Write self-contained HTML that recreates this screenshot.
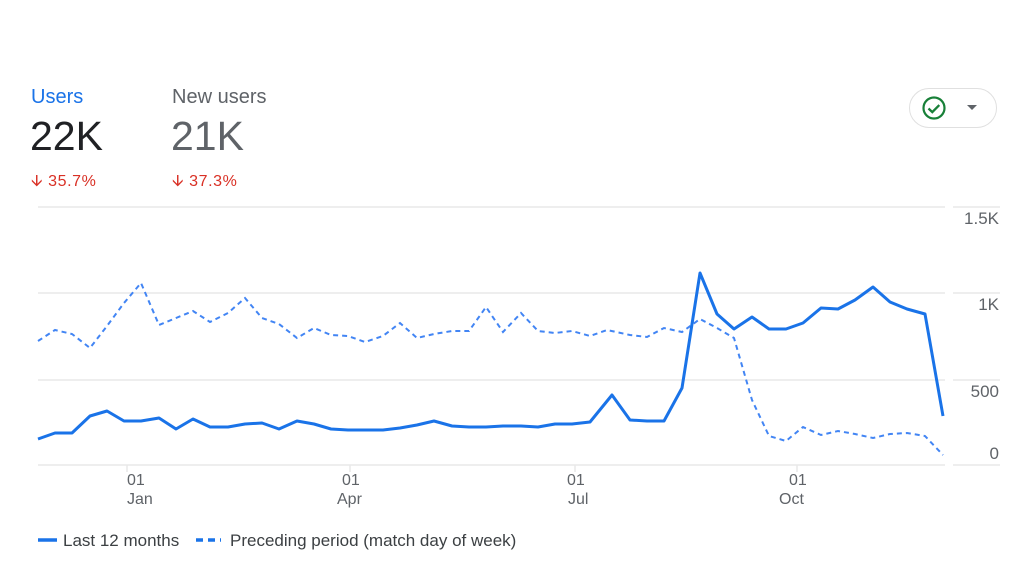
<!DOCTYPE html>
<html><head><meta charset="utf-8"><style>
body{margin:0;width:1024px;height:576px;background:#fff;font-family:"Liberation Sans",sans-serif;position:relative;overflow:hidden}
.t{position:absolute;white-space:nowrap}
</style></head><body>
<div class="t" style="left:31px;top:86px;font-size:20px;color:#1a73e8">Users</div>
<div class="t" style="left:172px;top:86px;font-size:20px;color:#5f6368">New users</div>
<div class="t" style="left:30px;top:113px;font-size:41px;color:#202124">22K</div>
<div class="t" style="left:171px;top:113px;font-size:41px;color:#5f6368">21K</div>
<div class="t" style="left:31px;top:170px;font-size:16px;color:#d93025;letter-spacing:0.6px">&#129131; 35.7%</div>
<div class="t" style="left:172px;top:170px;font-size:16px;color:#d93025;letter-spacing:0.6px">&#129131; 37.3%</div>
<div style="position:absolute;left:909px;top:88px;width:88px;height:40px;border:1px solid #e0e0e0;border-radius:21px;box-sizing:border-box"></div>
<svg style="position:absolute;left:0;top:0" width="1024" height="576">
<circle cx="934" cy="108" r="10.5" fill="none" stroke="#188038" stroke-width="2.2"/>
<path d="M928.5 108.5l3.8 3.6 7-7" fill="none" stroke="#188038" stroke-width="2.3"/>
<path d="M967 105h10l-5 5z" fill="#5f6368"/>
<g stroke="#e8e8e8" stroke-width="1.5">
<line x1="38" y1="207" x2="945" y2="207"/><line x1="953" y1="207" x2="1000" y2="207"/>
<line x1="38" y1="293" x2="945" y2="293"/><line x1="953" y1="293" x2="1000" y2="293"/>
<line x1="38" y1="380" x2="945" y2="380"/><line x1="953" y1="380" x2="1000" y2="380"/>
<line x1="38" y1="465" x2="945" y2="465"/><line x1="953" y1="465" x2="1000" y2="465"/>
<line x1="127" y1="465" x2="127" y2="472"/><line x1="350" y1="465" x2="350" y2="472"/>
<line x1="575" y1="465" x2="575" y2="472"/><line x1="797" y1="465" x2="797" y2="472"/>
</g>
<g font-size="17" fill="#5f6368" text-anchor="end">
<text x="999" y="224">1.5K</text><text x="999" y="310">1K</text><text x="999" y="397">500</text><text x="999" y="459">0</text>
</g>
<g font-size="16" fill="#5f6368">
<text x="127" y="485">01</text><text x="127" y="504">Jan</text>
<text x="342" y="485">01</text><text x="337" y="504">Apr</text>
<text x="567" y="485">01</text><text x="568" y="504">Jul</text>
<text x="789" y="485">01</text><text x="779" y="504">Oct</text>
</g>
<polyline fill="none" stroke="#4285f4" stroke-width="2" stroke-dasharray="5,4" points="38,341 55,330 72,334 90,348 107,326 124,303 141,283 159,325 176,318 193,311 210,322 228,313 245,298 262,318 279,324 297,338 314,328 331,335 348,336 365,342 383,336 400,323 417,338 434,334 452,331 469,331 486,307 503,332 521,313 538,331 555,333 572,331 590,336 607,330 630,335 647,337 664,328 682,332 700,319 717,328 734,338 752,400 769,436 786,441 803,427 821,435 838,431 855,434 873,438 890,434 907,433 925,436 943,455"/>
<polyline fill="none" stroke="#1a73e8" stroke-width="3" stroke-linejoin="round" points="38,439 55,433 72,433 90,416 107,411 124,421 141,421 159,418 176,429 193,419 210,427 228,427 245,424 262,423 279,429 297,421 314,424 331,429 348,430 365,430 383,430 400,428 417,425 434,421 452,426 469,427 486,427 503,426 521,426 538,427 555,424 572,424 590,422 612,395 630,420 647,421 664,421 682,388 700,273 717,314 734,329 752,317 769,329 786,329 803,323 821,308 838,309 855,300 873,287 890,302 907,309 925,314 943,416"/>
<line x1="38" y1="540" x2="57" y2="540" stroke="#1a73e8" stroke-width="3.5"/>
<line x1="196" y1="540" x2="221" y2="540" stroke="#1a73e8" stroke-width="3.5" stroke-dasharray="7,5"/>
<g font-size="17" fill="#3c4043"><text x="63" y="546">Last 12 months</text><text x="230" y="546">Preceding period (match day of week)</text></g>
</svg>
</body></html>
